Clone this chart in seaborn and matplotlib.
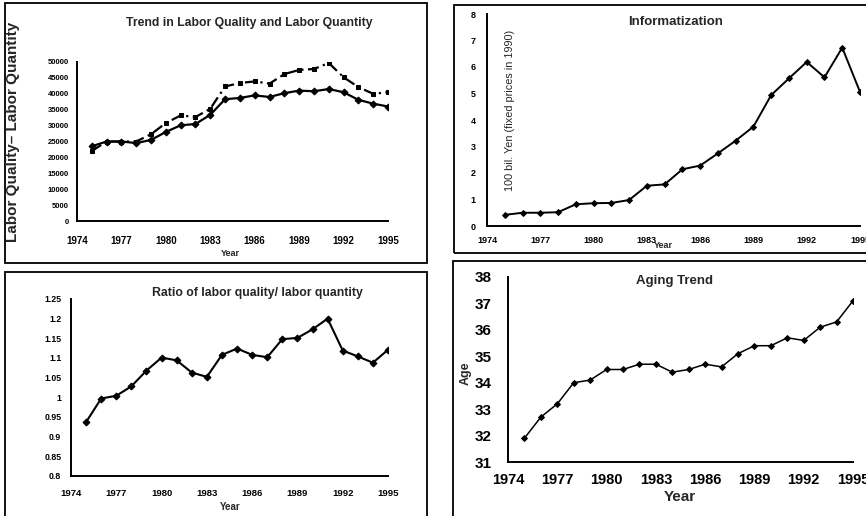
import numpy as np
import pandas as pd
import seaborn as sns
import matplotlib
matplotlib.use("Agg")
import matplotlib.pyplot as plt
from matplotlib.patches import Rectangle

# ---------------- data ----------------
years = list(range(1975, 1996))
labor_quality = [22000, 25000, 25000, 25000, 27300, 30800, 33200, 32700, 35300, 42300, 43400,
                 43900, 43200, 46200, 47500, 47800, 49700, 45200, 42100, 40000, 40500]
labor_quantity = [23500, 25000, 25000, 24500, 25500, 28000, 30100, 30500, 33400, 38300, 38700,
                  39500, 39000, 40200, 41000, 40800, 41500, 40500, 38100, 36900, 36000]
ratio = [0.937, 0.997, 1.004, 1.028, 1.068, 1.101, 1.094, 1.063, 1.052, 1.108, 1.124,
         1.108, 1.102, 1.148, 1.151, 1.173, 1.200, 1.119, 1.104, 1.088, 1.121]
informatization = [0.42, 0.50, 0.50, 0.52, 0.82, 0.86, 0.87, 0.98, 1.52, 1.57, 2.14,
                   2.28, 2.74, 3.22, 3.75, 4.94, 5.57, 6.19, 5.61, 6.73, 5.06]
age = [31.9, 32.7, 33.2, 34.0, 34.1, 34.5, 34.5, 34.7, 34.7, 34.4, 34.5,
       34.7, 34.6, 35.1, 35.4, 35.4, 35.7, 35.6, 36.1, 36.3, 37.1]

x_ticks = [1974, 1977, 1980, 1983, 1986, 1989, 1992, 1995]
q_ticks = [0, 5000, 10000, 15000, 20000, 25000, 30000, 35000, 40000, 45000, 50000]
r_ticks = [0.8, 0.85, 0.9, 0.95, 1.0, 1.05, 1.1, 1.15, 1.2, 1.25]
r_labels = ["0.8", "0.85", "0.9", "0.95", "1", "1.05", "1.1", "1.15", "1.2", "1.25"]
i_ticks = [0, 1, 2, 3, 4, 5, 6, 7, 8]
a_ticks = [31, 32, 33, 34, 35, 36, 37, 38]

df = pd.DataFrame({"Year": years, "quality": labor_quality, "quantity": labor_quantity,
                   "ratio": ratio, "info": informatization, "age": age})

sns.set_style("white")
plt.rcParams["font.family"] = ["Liberation Sans", "DejaVu Sans"]
plt.rcParams["font.weight"] = "bold"

W, H = 866, 516
fig = plt.figure(figsize=(W / 100, H / 100), dpi=100)


def ax_px(x0, x1, ytop, ybot):
    return fig.add_axes([x0 / W, 1 - ybot / H, (x1 - x0) / W, (ybot - ytop) / H])


def box_px(x0, x1, ytop, ybot):
    fig.patches.append(Rectangle((x0 / W, 1 - ybot / H), (x1 - x0) / W, (ybot - ytop) / H,
                                 transform=fig.transFigure, fill=False, lw=1.3,
                                 edgecolor="black"))


def style(ax, xfs, yfs, xpad, ypad):
    for s in ["top", "right"]:
        ax.spines[s].set_visible(False)
    for s in ["left", "bottom"]:
        ax.spines[s].set_color("black")
        ax.spines[s].set_linewidth(1.4)
    ax.set_xlim(1974, 1995)
    ax.set_xticks(x_ticks)
    ax.tick_params(axis="x", direction="in", length=4, width=1.2, labelsize=xfs, pad=xpad,
                   colors="black")
    ax.tick_params(axis="y", direction="in", length=3, width=1.0, labelsize=yfs, pad=ypad,
                   colors="black")
    for lab in ax.get_xticklabels() + ax.get_yticklabels():
        lab.set_fontweight("bold")
    ax.set_xlabel("")
    ax.set_ylabel("")
    ax.patch.set_alpha(0)


# boxes
box_px(5, 427, 3, 263)
box_px(5, 427, 272, 518)
box_px(454, 870, 5, 253)
box_px(453, 870, 261, 518)

# ---------- panel 1 ----------
ax1 = ax_px(77, 388, 62, 221)
sns.lineplot(data=df, x="Year", y="quantity", ax=ax1, color="black", lw=1.6,
             marker="D", markersize=3.5, markeredgecolor="black")
sns.lineplot(data=df, x="Year", y="quality", ax=ax1, color="black", lw=1.6,
             linestyle=(0, (5, 2, 1, 2)), marker="s", markersize=3.5, markeredgecolor="black")
ax1.set_ylim(0, 50000)
ax1.set_yticks(q_ticks)
style(ax1, 7, 5.5, 11, 6)
fig.text(249 / W, 1 - 23 / H, "Trend in Labor Quality and Labor Quantity", ha="center",
         va="center", fontsize=8.8, fontweight="bold")
fig.text(13 / W, 1 - 132 / H, "Labor Quality\u2013 Labor Quantity", rotation=90, ha="center",
         va="center", fontsize=11, fontweight="bold")
fig.text(230 / W, 1 - 254 / H, "Year", ha="center", va="center", fontsize=6.5,
         fontweight="bold")

# ---------- panel 2 ----------
ax2 = ax_px(487, 860, 14, 226)
sns.lineplot(data=df, x="Year", y="info", ax=ax2, color="black", lw=1.4,
             marker="D", markersize=3, markeredgecolor="black")
ax2.set_ylim(0, 8)
ax2.set_yticks(i_ticks)
style(ax2, 6.5, 6.5, 7, 8)
fig.text(676 / W, 1 - 22 / H, "Informatization", ha="center", va="center", fontsize=9.5,
         fontweight="bold")
fig.text(510 / W, 1 - 110 / H, "100 bil. Yen (fixed prices in 1990)", rotation=90,
         ha="center", va="center", fontsize=7.8, fontweight="normal")
fig.text(663 / W, 1 - 246 / H, "Year", ha="center", va="center", fontsize=6.5,
         fontweight="bold")

# ---------- panel 3 ----------
ax3 = ax_px(71, 388, 299, 476)
sns.lineplot(data=df, x="Year", y="ratio", ax=ax3, color="black", lw=1.5,
             marker="D", markersize=3.5, markeredgecolor="black")
ax3.set_ylim(0.8, 1.25)
ax3.set_yticks(r_ticks)
ax3.set_yticklabels(r_labels)
style(ax3, 6.8, 6.3, 9, 7)
fig.text(257 / W, 1 - 293 / H, "Ratio of labor quality/ labor quantity", ha="center",
         va="center", fontsize=8.8, fontweight="bold")
fig.text(230 / W, 1 - 507 / H, "Year", ha="center", va="center", fontsize=7,
         fontweight="bold")

# ---------- panel 4 ----------
ax4 = ax_px(508, 853, 277, 462)
sns.lineplot(data=df, x="Year", y="age", ax=ax4, color="black", lw=1.1,
             marker="D", markersize=3, markeredgecolor="black")
ax4.set_ylim(31, 38)
ax4.set_yticks(a_ticks)
style(ax4, 10.5, 11, 8, 12)
fig.text(675 / W, 1 - 281 / H, "Aging Trend", ha="center", va="center", fontsize=9.5,
         fontweight="bold")
fig.text(466 / W, 1 - 373 / H, "Age", rotation=90, ha="center", va="center", fontsize=9,
         fontweight="bold")
fig.text(680 / W, 1 - 497 / H, "Year", ha="center", va="center", fontsize=11,
         fontweight="bold")

fig.savefig("out.png", dpi=100)
